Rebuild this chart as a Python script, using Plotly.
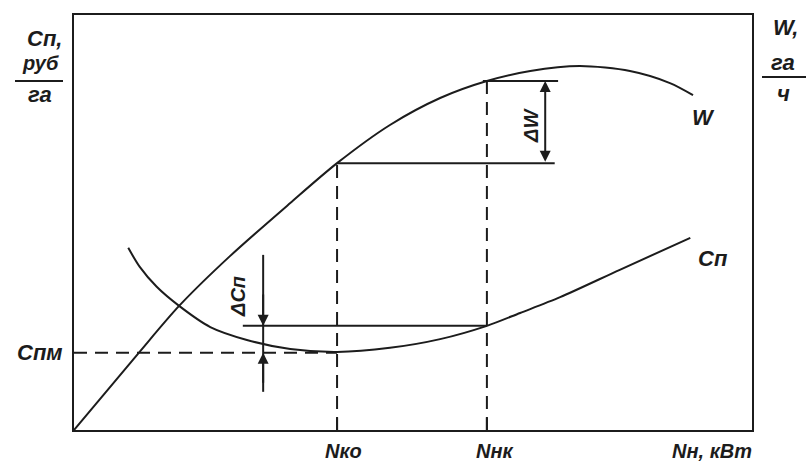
import plotly.graph_objects as go

# W curve (productivity), abstract units 0..100
w_x = [0, 9.4, 15.5, 23.0, 31.9, 38.8, 46.6, 54.0, 60.9, 67.3, 74.6, 82.0, 87.9, 91.3]
w_y = [0, 18.3, 29.9, 41.9, 54.7, 64.3, 73.5, 80.0, 84.1, 86.5, 87.7, 86.5, 83.6, 80.7]

# Cп curve (cost)
c_x = [8.0, 9.7, 12.2, 15.5, 20.1, 25.5, 31.9, 38.8, 46.6, 54.0, 60.9, 65.8, 71.7, 80.5, 90.9]
c_y = [43.9, 39.3, 34.5, 29.9, 24.8, 21.7, 19.5, 18.8, 19.8, 21.9, 25.1, 28.2, 32.0, 38.6, 46.3]

# key levels
N_ko = 38.8
N_nk = 60.9
C_pm = 18.6
W_ko = 64.3
W_nk = 84.1
C_nk = 25.1

INK = "#1c1c1c"
FONT = dict(family="Liberation Sans", size=22, color=INK, style="italic", weight="bold")

# pixel layout of plot area
L, R, T, B = 74, 752, 15, 430
W_PX, H_PX = 807, 468


def px(xp, yp):
    return (xp - L) / (R - L), (B - yp) / (B - T)


fig = go.Figure()
fig.add_trace(go.Scatter(x=w_x, y=w_y, mode="lines", line=dict(color=INK, width=2, shape="spline", smoothing=0.8),
                         hoverinfo="skip", showlegend=False))
fig.add_trace(go.Scatter(x=c_x, y=c_y, mode="lines", line=dict(color=INK, width=2, shape="spline", smoothing=0.8),
                         hoverinfo="skip", showlegend=False))

dash = "13px,8px"
shapes = [
    dict(type="line", x0=N_ko, x1=N_ko, y0=0, y1=W_ko, line=dict(color=INK, width=2, dash=dash)),
    dict(type="line", x0=N_nk, x1=N_nk, y0=0, y1=W_nk, line=dict(color=INK, width=2, dash=dash)),
    dict(type="line", x0=0, x1=N_ko, y0=C_pm, y1=C_pm, line=dict(color=INK, width=2, dash=dash)),
    dict(type="line", x0=N_ko, x1=N_ko, y0=0, y1=3, line=dict(color=INK, width=2)),
    dict(type="line", x0=N_nk, x1=N_nk, y0=0, y1=3, line=dict(color=INK, width=2)),
    dict(type="line", x0=N_ko, x1=70.9, y0=W_ko, y1=W_ko, line=dict(color=INK, width=2)),
    dict(type="line", x0=60.3, x1=71.4, y0=W_nk, y1=W_nk, line=dict(color=INK, width=2)),
    dict(type="line", x0=24.9, x1=N_nk, y0=C_nk, y1=C_nk, line=dict(color=INK, width=2)),
    dict(type="line", x0=27.9, x1=27.9, y0=9.2, y1=42.2, line=dict(color=INK, width=2)),
    dict(type="line", xref="paper", yref="paper", x0=px(15, 0)[0], x1=px(63, 0)[0], y0=px(0, 81)[1], y1=px(0, 81)[1],
         line=dict(color=INK, width=2)),
    dict(type="line", xref="paper", yref="paper", x0=px(762, 0)[0], x1=px(806, 0)[0], y0=px(0, 77)[1], y1=px(0, 77)[1],
         line=dict(color=INK, width=2)),
]

ann = []
ann.append(dict(x=69.5, y=W_nk, ax=69.5, ay=W_ko, xref="x", yref="y", axref="x", ayref="y", text="",
                showarrow=True, arrowhead=2, startarrowhead=2, arrowside="end+start", arrowsize=1.1,
                arrowwidth=2, arrowcolor=INK, standoff=0, startstandoff=0))
ann.append(dict(x=27.9, y=C_nk, ax=27.9, ay=33, xref="x", yref="y", axref="x", ayref="y", text="",
                showarrow=True, arrowhead=2, arrowsize=1.1, arrowwidth=2, arrowcolor=INK, standoff=0))
ann.append(dict(x=27.9, y=C_pm, ax=27.9, ay=11, xref="x", yref="y", axref="x", ayref="y", text="",
                showarrow=True, arrowhead=2, arrowsize=1.1, arrowwidth=2, arrowcolor=INK, standoff=0))


def label(text, xp, yp, size=22, angle=0):
    x, y = px(xp, yp)
    f = dict(FONT)
    f["size"] = size
    ann.append(dict(x=x, y=y, xref="paper", yref="paper", text=text, showarrow=False, font=f,
                    xanchor="center", yanchor="middle", textangle=angle))


label("ΔW", 531, 126, size=20, angle=-90)
label("ΔCп", 238, 297, size=20, angle=-90)
label("Сп,", 44, 38)
label("руб", 40, 63, size=20)
label("га", 40, 95)
label("W,", 785, 27)
label("га", 783, 62)
label("ч", 783, 93)
label("Спм", 40, 352)
label("W", 703, 117)
label("Сп", 713, 258)
label("Nко", 343, 451, size=20)
label("Nнк", 495, 451, size=20)
label("Nн, кВт", 712, 451, size=20)

fig.update_layout(
    width=W_PX, height=H_PX,
    margin=dict(l=L, r=W_PX - R, t=T, b=H_PX - B),
    paper_bgcolor="white", plot_bgcolor="white",
    shapes=shapes, annotations=ann, showlegend=False,
    xaxis=dict(range=[0, 100], showgrid=False, zeroline=False, showticklabels=False, ticks="",
               showline=True, mirror=True, linecolor=INK, linewidth=2, fixedrange=True),
    yaxis=dict(range=[0, 100], showgrid=False, zeroline=False, showticklabels=False, ticks="",
               showline=True, mirror=True, linecolor=INK, linewidth=2, fixedrange=True),
)

fig.write_html("out.html", config={"displayModeBar": False})

with open("out.html", "r", encoding="utf-8") as fh:
    html = fh.read()
html = html.replace("<head>", "<head><style>html,body{margin:0;padding:0;overflow:hidden;}</style>", 1)
with open("out.html", "w", encoding="utf-8") as fh:
    fh.write(html)
